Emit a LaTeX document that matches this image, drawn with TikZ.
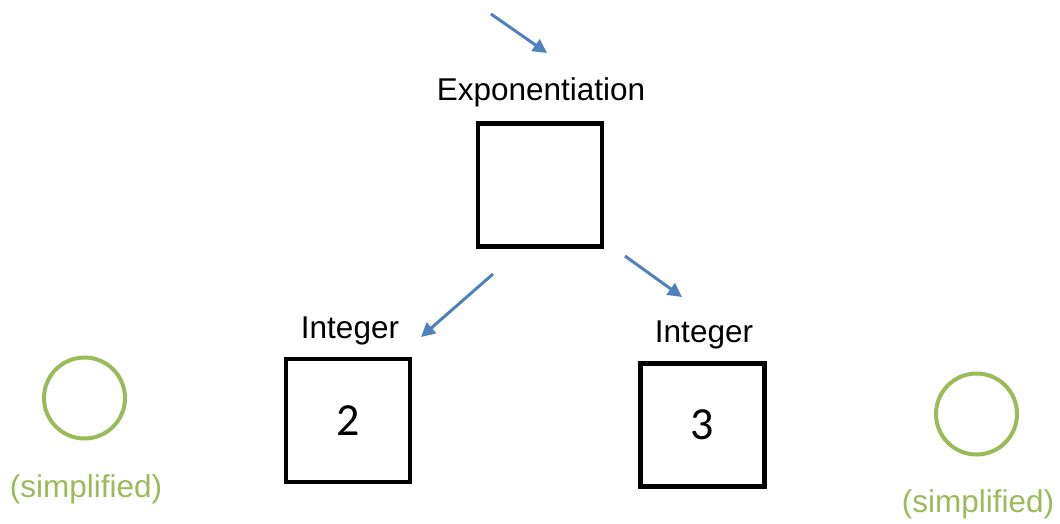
\documentclass[tikz,border=0pt]{standalone}
\usepackage{fontspec}
\setmainfont{Liberation Sans}
\newfontfamily\digitfont{Carlito}
\usetikzlibrary{arrows.meta}
\definecolor{arrblue}{RGB}{79,129,189}
\definecolor{simpgreen}{RGB}{155,187,89}
\begin{document}
\begin{tikzpicture}[x=1pt,y=-1pt,
  box/.style={draw=black,line width=4.5pt,minimum width=124pt,minimum height=123pt,inner sep=0pt,font=\digitfont\fontsize{46}{50}\selectfont},
  lbl/.style={inner sep=0pt,font=\fontsize{31.5}{36}\selectfont},
  simp/.style={inner sep=0pt,text=simpgreen,font=\fontsize{31.5}{36}\selectfont},
  ring/.style={draw=simpgreen,line width=4pt,circle,minimum size=81pt,inner sep=0pt},
  arr/.style={draw=arrblue,line width=3pt,-{Triangle[length=14pt,width=14pt]}}]
\useasboundingbox (0,0) rectangle (1060,523);
\node[box] (exp) at (540,185) {};
\node[lbl] (explbl) at (541,92) {Exponentiation};
\node[box] (two) at (348,420.5) {2};
\node[lbl] (int1) at (350,331) {Integer};
\node[box] (three) at (702.5,425) {3};
\node[lbl] (int2) at (704,335) {Integer};
\node[ring] (c1) at (84.5,398) {};
\node[simp] (s1) at (86,489) {(simplified)};
\node[ring] (c2) at (976.5,414) {};
\node[simp] (s2) at (978,504) {(simplified)};
\coordinate (a0) at (491,14);
\coordinate (a1) at (547,53);
\coordinate (b0) at (493,274);
\coordinate (b1) at (421,337);
\coordinate (d0) at (625,256);
\coordinate (d1) at (682,297);
\draw[arr] (a0) -- (a1);
\draw[arr] (b0) -- (b1);
\draw[arr] (d0) -- (d1);
\end{tikzpicture}
\end{document}
